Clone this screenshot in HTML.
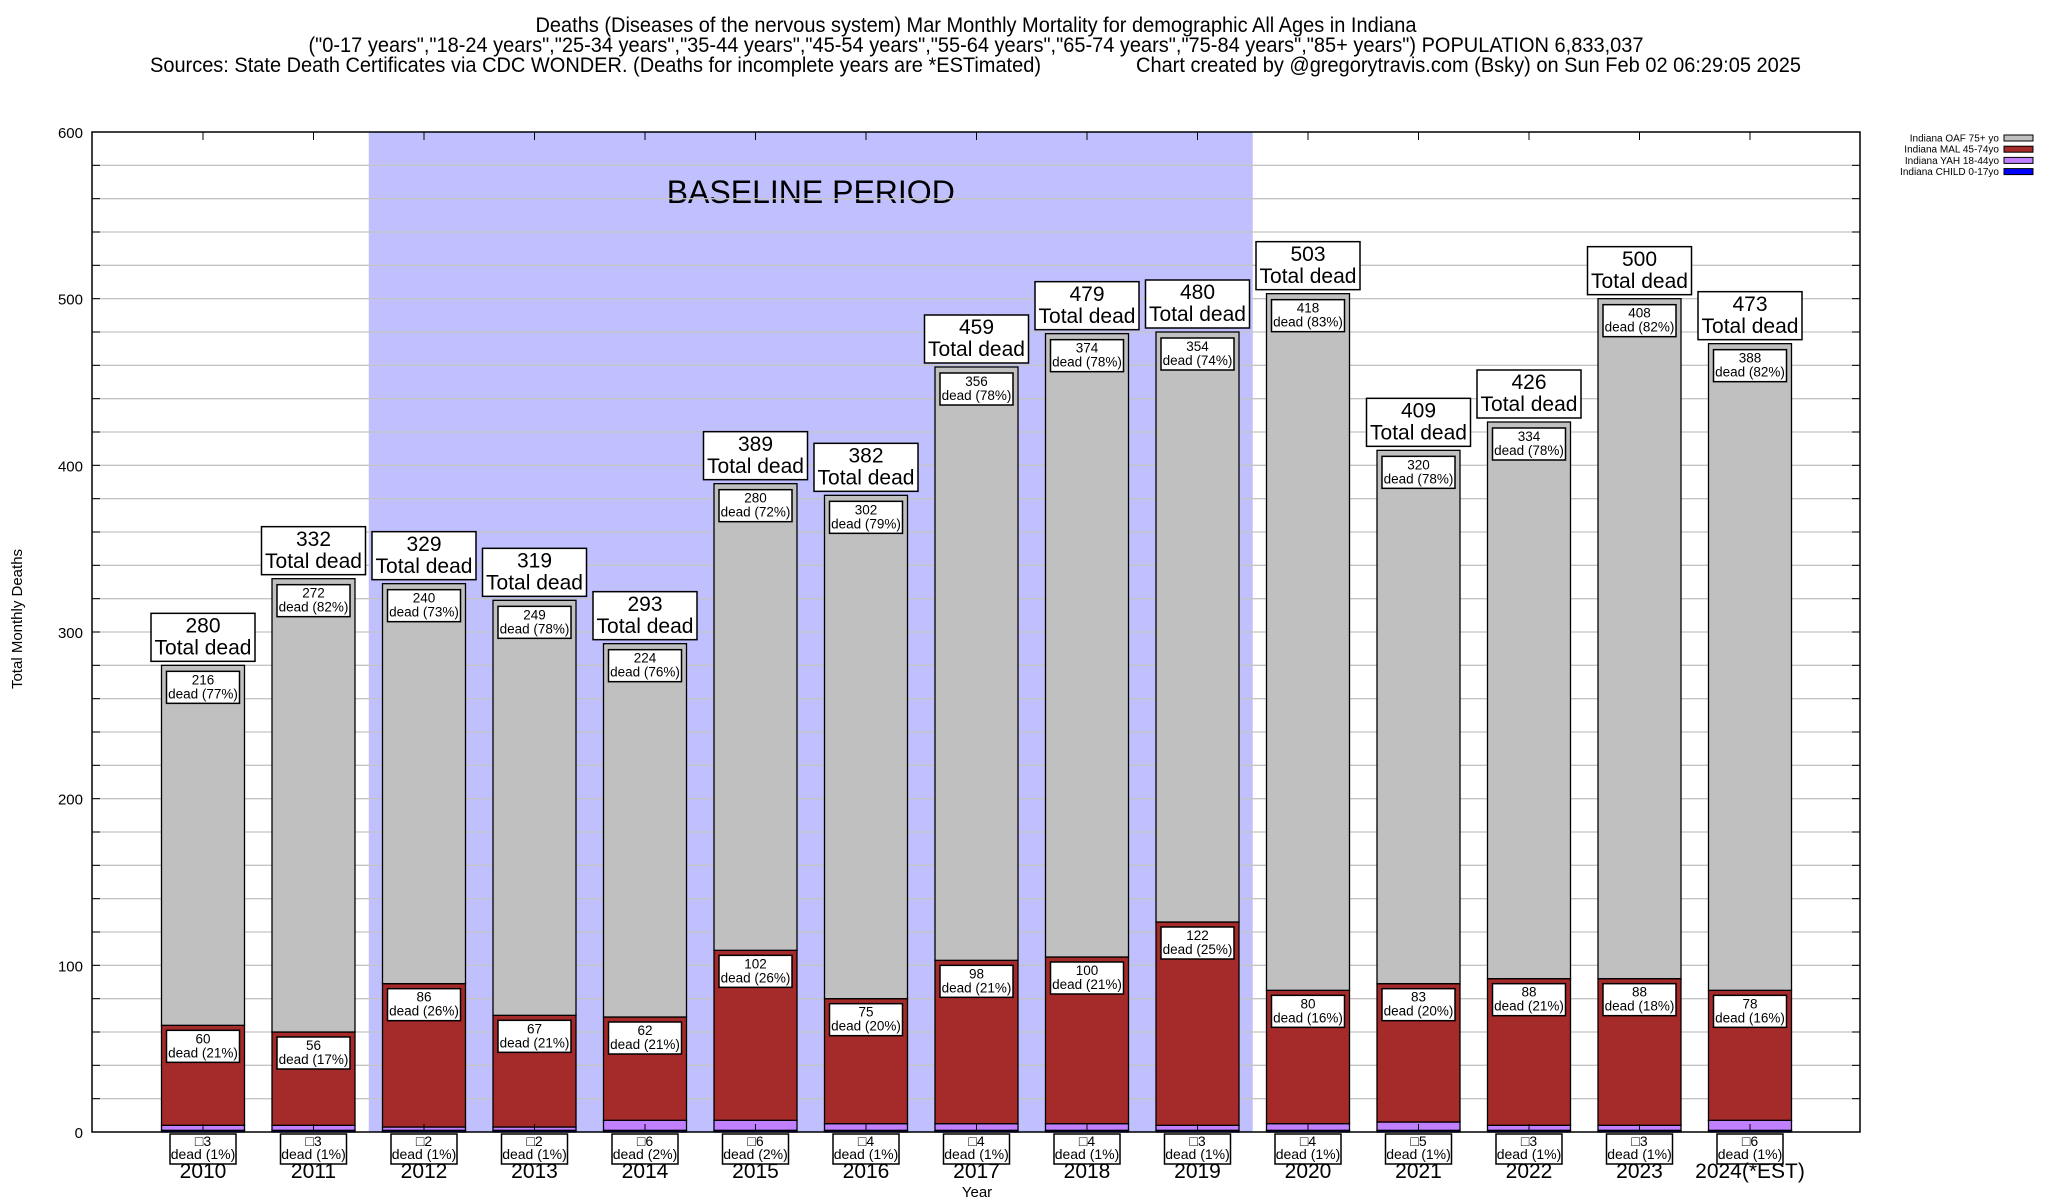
<!DOCTYPE html>
<html><head><meta charset="utf-8"><style>
html,body{margin:0;padding:0;background:#fff}
svg{display:block;font-family:"Liberation Sans",Arial,sans-serif}
</style></head><body>
<svg id="chart" width="2048" height="1200" viewBox="0 0 2048 1200" xmlns="http://www.w3.org/2000/svg">
<g font-size="21" fill="#000">
<text x="976" y="32" text-anchor="middle" textLength="881" lengthAdjust="spacingAndGlyphs">Deaths (Diseases of the nervous system) Mar Monthly Mortality for demographic All Ages in Indiana</text>
<text x="976" y="52" text-anchor="middle" textLength="1335" lengthAdjust="spacingAndGlyphs">("0-17 years","18-24 years","25-34 years","35-44 years","45-54 years","55-64 years","65-74 years","75-84 years","85+ years") POPULATION 6,833,037</text>
<text x="150" y="72" textLength="891" lengthAdjust="spacingAndGlyphs">Sources: State Death Certificates via CDC WONDER. (Deaths for incomplete years are *ESTimated)</text>
<text x="1136" y="72" textLength="665" lengthAdjust="spacingAndGlyphs">Chart created by @gregorytravis.com (Bsky) on Sun Feb 02 06:29:05 2025</text>
</g>
<g id="plot"></g>
</svg>
<script>
const years = ["2010","2011","2012","2013","2014","2015","2016","2017","2018","2019","2020","2021","2022","2023","2024(*EST)"];
const totals = [280,332,329,319,293,389,382,459,479,480,503,409,426,500,473];
const oaf = [216,272,240,249,224,280,302,356,374,354,418,320,334,408,388];
const mal = [60,56,86,67,62,102,75,98,100,122,80,83,88,88,78];
const yah = [3,3,2,2,6,6,4,4,4,3,4,5,3,3,6];
const child = [1,1,1,1,1,1,1,1,1,1,1,1,1,1,1];
const yTicks = [0,100,200,300,400,500,600];
const baselineRange = ["2012","2019"];

const NS="http://www.w3.org/2000/svg";
const L=92,R=1860,T=132,B=1132,yMax=600;
const step=110.5, x0=203, bw=83;
function X(i){return x0+i*step;}
function Y(v){return B-(v/yMax)*(B-T);}
const g=document.getElementById('plot');
function el(tag,attrs,parent){const e=document.createElementNS(NS,tag);for(const k in attrs)e.setAttribute(k,attrs[k]);(parent||g).appendChild(e);return e;}

const bi0=years.indexOf(baselineRange[0]), bi1=years.indexOf(baselineRange[1]);
const shade=el('rect',{x:X(bi0)-step/2,y:T,width:step*(bi1-bi0+1),height:B-T,fill:'#c0c0ff'});


const bt=el('text',{x:(X(bi0)+X(bi1))/2,y:203,'text-anchor':'middle','font-size':'32'});
bt.textContent='BASELINE PERIOD';



for(let v=20;v<yMax;v+=20){
  const gl=el('line',{x1:L,x2:R,y1:Y(v),y2:Y(v),stroke:'#c4c4c4','stroke-width':1.3});
  
  
  el('line',{x1:L,x2:L+8,y1:Y(v),y2:Y(v),stroke:'#000','stroke-width':1});
  el('line',{x1:R,x2:R-8,y1:Y(v),y2:Y(v),stroke:'#000','stroke-width':1});
}
yTicks.forEach(v=>{
  const t=el('text',{x:83,y:Y(v)+6,'text-anchor':'end','font-size':'15'});
  t.textContent=v;
  
  
});
const yt=el('text',{x:22,y:619,'text-anchor':'middle','font-size':'15',transform:'rotate(-90 22 619)'});
yt.textContent='Total Monthly Deaths';


const xt=el('text',{x:977,y:1197,'text-anchor':'middle','font-size':'15'});
xt.textContent='Year';



function box(cx,top,lines,fs,w,lh,name){
  const h=lines.length*lh+4;
  const grp=el('g',{});
  
  
  el('rect',{x:cx-w/2,y:top,width:w,height:h,fill:'#fff',stroke:'#000','stroke-width':1.5},grp);
  lines.forEach((s,k)=>{const t=el('text',{x:cx,y:top+2+lh*(k+1)-lh*0.22,'text-anchor':'middle','font-size':fs},grp);t.textContent=s;});
  return h;
}

const colors={oaf:'#c0c0c0',mal:'#a52a2a',yah:'#c080ff',child:'#0000ff'};
years.forEach((yr,i)=>{
  const cx=X(i), xl=cx-bw/2;
  const segs=[['child',child[i]],['yah',yah[i]],['mal',mal[i]],['oaf',oaf[i]]];
  let base=0;
  segs.forEach(([k,v])=>{
    const r=el('rect',{x:xl,y:Y(base+v),width:bw,height:Y(base)-Y(base+v),fill:colors[k],stroke:'#000','stroke-width':1.3});
    
    
    base+=v;
  });
  const tot=totals[i];
  const pc=v=>Math.round(v/tot*100);
  el('line',{x1:cx,x2:cx,y1:T,y2:T+8,stroke:'#000'});
  el('line',{x1:cx,x2:cx,y1:B,y2:B-8,stroke:'#000'});
  box(cx,Y(tot)-52,[String(tot),'Total dead'],'21',104,22,'total-label-'+yr.slice(0,4));
  box(cx,Y(tot)+6,[String(oaf[i]),'dead ('+pc(oaf[i])+'%)'],'13.5',73,14,'oaf-label-'+yr.slice(0,4));
  box(cx,Y(child[i]+yah[i]+mal[i])+5,[String(mal[i]),'dead ('+pc(mal[i])+'%)'],'13.5',73,14,'mal-label-'+yr.slice(0,4));
  box(cx,B+2,['\u25A1'+yah[i],'dead ('+pc(yah[i])+'%)'],'14',66,13,'yah-label-'+yr.slice(0,4));
  const xl2=el('text',{x:cx,y:1178,'text-anchor':'middle','font-size':'21'});
  xl2.textContent=yr;
  
  
});
const fr=el('rect',{x:L,y:T,width:R-L,height:B-T,fill:'none',stroke:'#000','stroke-width':1.5});



const legNames=['Indiana OAF 75+ yo','Indiana MAL 45-74yo','Indiana YAH 18-44yo','Indiana CHILD 0-17yo'];
const legKeys=['oaf','mal','yah','child'];
legNames.forEach((n,k)=>{
  const y=138+k*11.2;
  const lg=el('g',{});
  
  
  const t=el('text',{x:1999,y:y+3.5,'text-anchor':'end','font-size':'10'},lg);t.textContent=n;
  el('rect',{x:2004,y:y-3,width:29,height:6,fill:colors[legKeys[k]],stroke:'#000','stroke-width':1},lg);
});
</script>
</body></html>
